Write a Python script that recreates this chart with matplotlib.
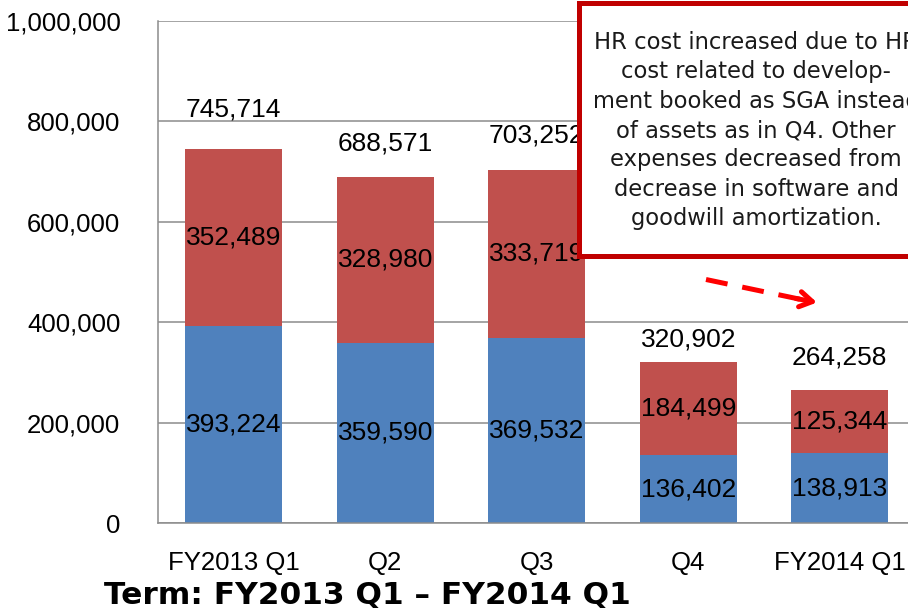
import numpy as np
import matplotlib
matplotlib.use("Agg")
import matplotlib.pyplot as plt
from matplotlib.patches import Rectangle

# data
quarters = ["FY2013 Q1", "Q2", "Q3", "Q4", "FY2014 Q1"]
hr_cost = [393224, 359590, 369532, 136402, 138913]
other_cost = [352489, 328980, 333719, 184499, 125344]
totals = [745714, 688571, 703252, 320902, 264258]

note = ("HR cost increased due to HR\n"
        "cost related to develop-\n"
        "ment booked as SGA instead\n"
        "of assets as in Q4. Other\n"
        "expenses decreased from\n"
        "decrease in software and\n"
        "goodwill amortization.")

# how far the total labels sit above the bars (points)
total_offsets = [28, 24, 24.5, 16, 24]

blue = "#4F81BD"
red = "#C0504D"
grid_col = "#8C8C8C"

plt.rcParams["font.family"] = ["Liberation Sans", "DejaVu Sans"]

W, H = 908, 613
fig = plt.figure(figsize=(W / 100, H / 100), dpi=100)
ax = fig.add_axes([158 / W, 1 - 523.3 / H, 757.5 / W, 502.6 / H])

x = np.arange(len(quarters))
ax.bar(x, hr_cost, width=0.64, color=blue, zorder=2)
ax.bar(x, other_cost, width=0.64, bottom=hr_cost, color=red, zorder=2)

for i in range(len(x)):
    ax.text(x[i], hr_cost[i] / 2, f"{hr_cost[i]:,}", ha="center", va="center",
            fontsize=19, zorder=3)
    ax.text(x[i], hr_cost[i] + other_cost[i] / 2, f"{other_cost[i]:,}",
            ha="center", va="center", fontsize=19, zorder=3)
    ax.annotate(f"{totals[i]:,}", (x[i], hr_cost[i] + other_cost[i]),
                xytext=(0, total_offsets[i]), textcoords="offset points",
                ha="center", va="center", fontsize=19, zorder=3)

ax.set_xlim(-0.5, len(x) - 0.5)
ax.set_ylim(0, 1000000)
ax.set_yticks(np.arange(0, 1000001, 200000))
ax.yaxis.set_major_formatter(matplotlib.ticker.FuncFormatter(lambda v, p: f"{int(v):,}"))
ax.set_xticks(x)
ax.set_xticklabels(quarters)
ax.tick_params(axis="both", length=0, labelsize=18.5)
ax.tick_params(axis="y", pad=27)
ax.tick_params(axis="x", pad=20)
ax.grid(axis="y", color=grid_col, linewidth=1.1, zorder=0)
ax.set_axisbelow(True)
for s in ["top", "right"]:
    ax.spines[s].set_visible(False)
for s in ["left", "bottom"]:
    ax.spines[s].set_color(grid_col)
    ax.spines[s].set_linewidth(1.1)

# note box over the chart (runs off the right edge, as in the original slide)
def fx(px):
    return px / W

def fy(py):
    return 1 - py / H

box = Rectangle((fx(578.5), fy(256)), fx(340), 253 / H, transform=fig.transFigure,
                facecolor="white", edgecolor="#C00000", linewidth=3.6, zorder=5)
fig.patches.append(box)
fig.text(fx(756), fy(130.5), note, ha="center", va="center", fontsize=16.3,
         family="DejaVu Sans", color="#1a1a1a", linespacing=1.36, zorder=6)

# dashed arrow
fig.add_artist(plt.Line2D([fx(706), fx(806)], [fy(279.5), fy(300.5)],
                          transform=fig.transFigure, color="#FF0000", linewidth=3.6,
                          dashes=(4.4, 3.0), zorder=6))
ax.annotate("", xy=(fx(817), fy(302.5)), xytext=(fx(796), fy(298.5)),
            xycoords="figure fraction", textcoords="figure fraction",
            arrowprops=dict(arrowstyle="->,head_length=0.9,head_width=0.55",
                            color="#FF0000", lw=3.6, shrinkA=0, shrinkB=0),
            zorder=6, annotation_clip=False)

fig.text(fx(104), fy(596), "Term: FY2013 Q1 \u2013 FY2014 Q1", ha="left", va="center",
         fontsize=22.5, fontweight="bold", family="DejaVu Sans", color="black")

fig.savefig("out.png", dpi=100)
